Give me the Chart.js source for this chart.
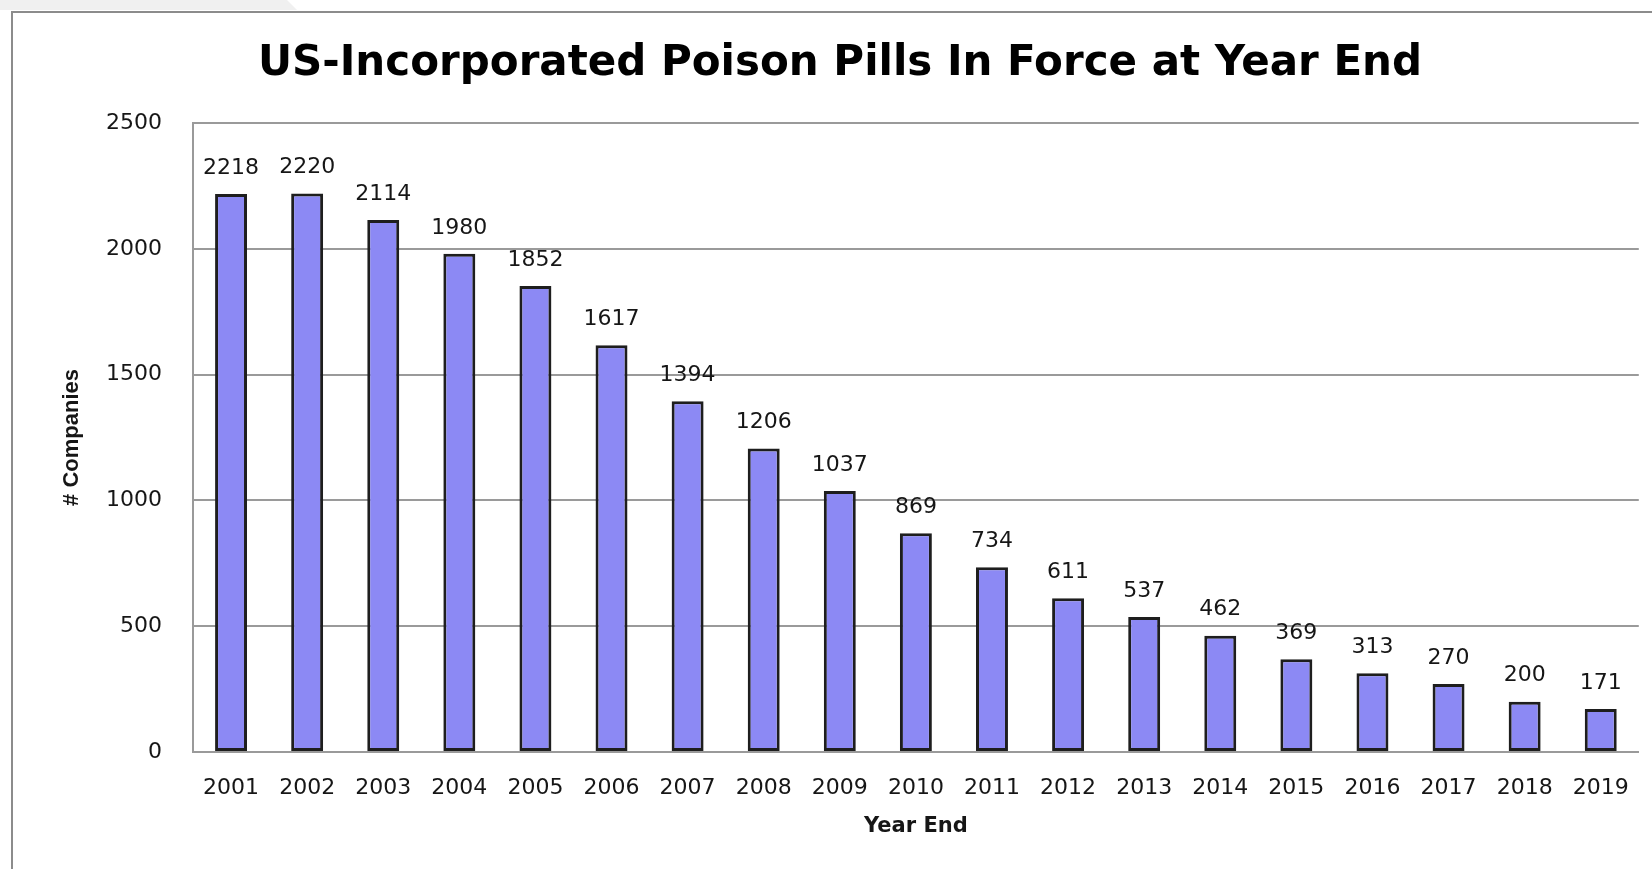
<!DOCTYPE html>
<html>
<head>
<meta charset="utf-8">
<title>US-Incorporated Poison Pills In Force at Year End</title>
<script src="https://cdn.jsdelivr.net/npm/chart.js@4.4.1/dist/chart.umd.min.js"></script>
<style>
  html, body { margin: 0; padding: 0; background: #fff; overflow: hidden; }
  #wrap { position: relative; width: 1652px; height: 869px; }
  #corner { position: absolute; left: 0; top: 0; width: 300px; height: 10px; background: #f0f0f0;
            clip-path: polygon(0 0, 287px 0, 297px 10px, 0 10px); }
  #frame { position: absolute; left: 11px; top: 11px; width: 1700px; height: 900px;
           border-left: 2px solid #8c8c8c; border-top: 2px solid #8c8c8c; }
  #pills { position: absolute; left: 0; top: 0; }
</style>
</head>
<body>
<div id="wrap">
  <div id="corner"></div>
  <div id="frame"></div>
  <canvas id="pills" width="1652" height="869"></canvas>
</div>
<script>
var years = ['2001','2002','2003','2004','2005','2006','2007','2008','2009','2010',
             '2011','2012','2013','2014','2015','2016','2017','2018','2019'];
var companies = [2218, 2220, 2114, 1980, 1852, 1617, 1394, 1206, 1037, 869,
                 734, 611, 537, 462, 369, 313, 270, 200, 171];
var yTicks = [0, 500, 1000, 1500, 2000, 2500];

var textColor = '#161616';
var gridColor = '#9a9a9a';
var numFont = '"DejaVu Sans", Verdana, sans-serif';

// numbers above each bar
var barLabels = {
  id: 'barLabels',
  afterDatasetsDraw: function(chart) {
    var ctx = chart.ctx;
    var meta = chart.getDatasetMeta(0);
    ctx.save();
    ctx.font = '22px ' + numFont;
    ctx.fillStyle = textColor;
    ctx.textAlign = 'center';
    ctx.textBaseline = 'middle';
    meta.data.forEach(function(bar, i) {
      ctx.fillText(String(companies[i]), bar.x, bar.y - 26);
    });
    ctx.restore();
  }
};

new Chart(document.getElementById('pills'), {
  type: 'bar',
  data: {
    labels: years,
    datasets: [{
      data: companies,
      backgroundColor: '#8c89f4',
      borderColor: '#1e1e1e',
      borderWidth: 3,
      borderSkipped: false,
      categoryPercentage: 1,
      barPercentage: 0.42
    }]
  },
  options: {
    responsive: false,
    animation: false,
    devicePixelRatio: 1,
    layout: { padding: { left: 38, right: 10, top: 0, bottom: 0 } },
    plugins: {
      legend: { display: false },
      tooltip: { enabled: false },
      title: {
        display: true,
        text: 'US-Incorporated Poison Pills In Force at Year End',
        color: '#000',
        font: { family: numFont, size: 42, weight: 'bold', lineHeight: 1.2 },
        padding: { top: 39, bottom: 33.6 }
      }
    },
    scales: {
      x: {
        grid: { display: false, drawTicks: false },
        border: { display: true, color: gridColor, width: 2 },
        ticks: {
          color: textColor,
          padding: 23,
          maxRotation: 0,
          autoSkip: false,
          font: { family: numFont, size: 22 }
        },
        title: {
          display: true,
          text: 'Year End',
          color: textColor,
          font: { family: numFont, size: 21, weight: 'bold' },
          padding: { top: 0, bottom: 29.4 }
        },
        afterFit: function(scale) { scale.height = 117; }
      },
      y: {
        min: 0,
        max: 2500,
        afterBuildTicks: function(scale) {
          scale.ticks = yTicks.map(function(v) { return { value: v }; });
        },
        grid: { color: gridColor, lineWidth: 2, drawTicks: false },
        border: { display: true, color: gridColor, width: 2 },
        ticks: {
          color: textColor,
          padding: 31,
          font: { family: numFont, size: 22 },
          callback: function(value) { return String(value); }
        },
        title: {
          display: true,
          text: '# Companies',
          color: textColor,
          font: { family: '"Liberation Sans", Arial, sans-serif', size: 22, weight: 'bold' },
          padding: { top: 20.8, bottom: 0 }
        },
        afterFit: function(scale) { scale.width = 155; }
      }
    }
  },
  plugins: [barLabels]
});
</script>
</body>
</html>
